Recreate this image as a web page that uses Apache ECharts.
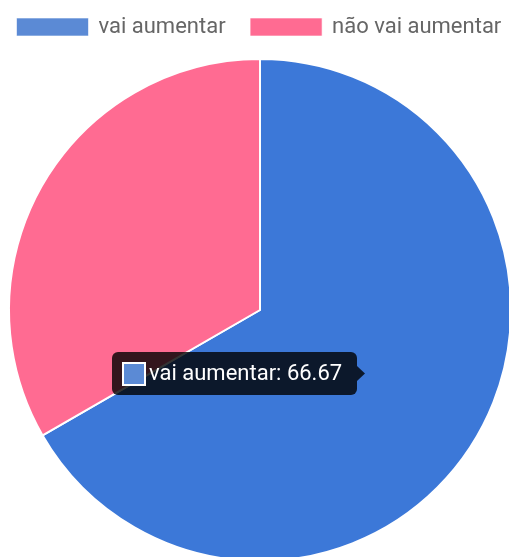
<!DOCTYPE html>
<html>
<head>
<meta charset="utf-8">
<script src="https://cdn.jsdelivr.net/npm/echarts@6/dist/echarts.min.js"></script>
<style>html,body{margin:0;padding:0;background:#fff;}#c{width:509px;height:557px;}</style>
</head>
<body>
<div id="c"></div>
<script>
const categories = ['vai aumentar', 'não vai aumentar'];
const values = [66.67, 33.33];
const sliceColors = ['#3c78d8', '#ff6b92'];
const legendColors = ['#5b8ad5', '#ff6b92'];
const tooltipIndex = 0;

const chart = echarts.init(document.getElementById('c'), null, {renderer: 'canvas'});
const font = 'Roboto, "Liberation Sans", Arial, sans-serif';
const tipText = categories[tooltipIndex] + ': ' + values[tooltipIndex].toFixed(2);

chart.setOption({
  animation: false,
  legend: {
    left: 11,
    top: 11,
    itemWidth: 72,
    itemHeight: 18,
    itemGap: 24,
    icon: 'rect',
    textStyle: {color: '#666', fontSize: 22, fontFamily: font, padding: [0, 0, 0, 5]},
    data: categories.map((n, i) => ({name: n, itemStyle: {color: legendColors[i], borderColor: 'rgba(255,255,255,0.6)', borderWidth: 1}}))
  },
  series: [{
    type: 'pie',
    center: [260, 310],
    radius: 251,
    startAngle: 90,
    clockwise: true,
    label: {show: false},
    labelLine: {show: false},
    emphasis: {disabled: true},
    itemStyle: {borderColor: '#fff', borderWidth: 2},
    data: categories.map((n, i) => ({name: n, value: values[i], itemStyle: {color: sliceColors[i]}}))
  }],
  graphic: [{
    type: 'group',
    left: 112,
    top: 352,
    z: 100,
    children: [
      {type: 'rect', z: 100, shape: {x: 0, y: 0, width: 245, height: 43, r: 6}, style: {fill: 'rgba(0,0,0,0.8)'}},
      {type: 'polygon', z: 100, shape: {points: [[245, 14], [253, 21.5], [245, 29]]}, style: {fill: 'rgba(0,0,0,0.8)'}},
      {type: 'rect', z: 101, shape: {x: 11, y: 11, width: 22, height: 22}, style: {fill: legendColors[tooltipIndex], stroke: '#fff', lineWidth: 2}},
      {type: 'text', z: 101, x: 37, y: 22, style: {text: tipText, fill: '#fff', fontSize: 22, fontFamily: font, verticalAlign: 'middle', align: 'left'}}
    ]
  }]
});
</script>
</body>
</html>
